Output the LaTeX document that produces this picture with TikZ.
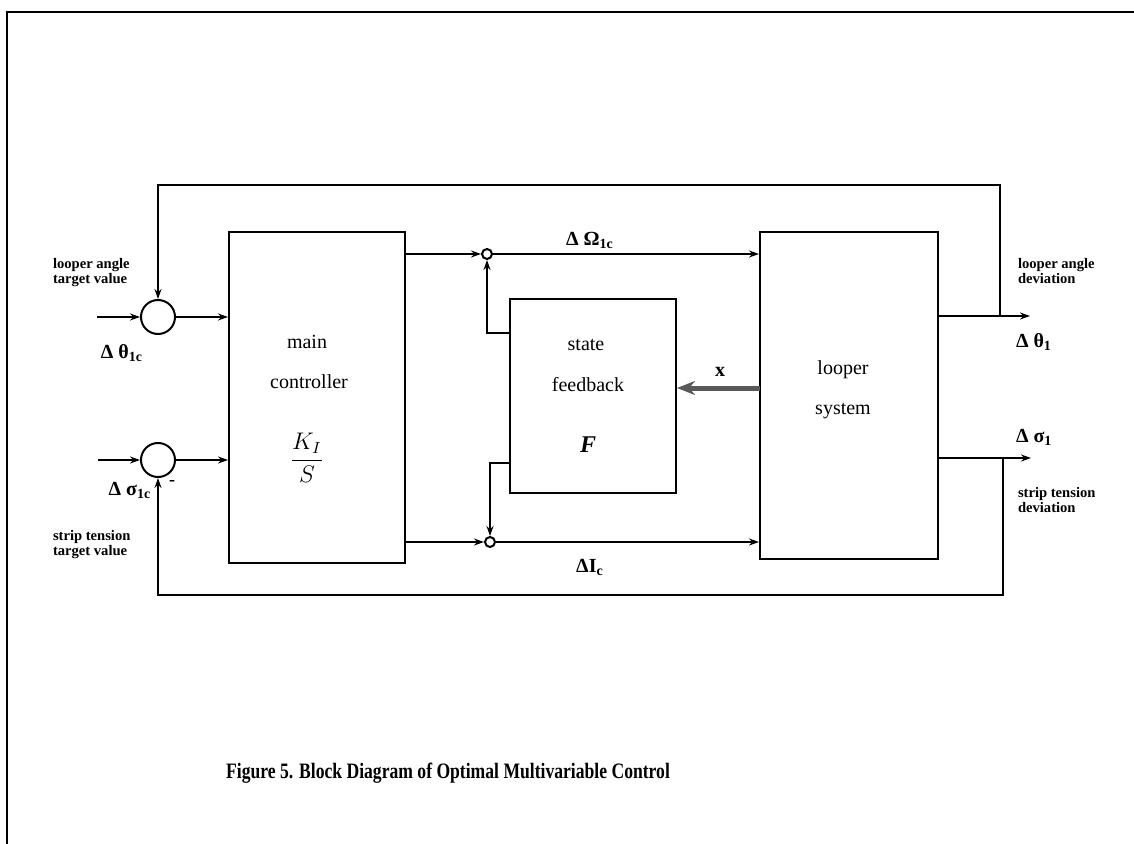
\documentclass[tikz,border=0pt]{standalone}
\usepackage{amsmath}
\usepackage{fontspec}
\setmainfont{Liberation Serif}
\usepackage{tikz}
\usetikzlibrary{arrows.meta,positioning,calc}

\begin{document}
\begin{tikzpicture}[x=0.5pt,y=-0.5pt,line width=1pt,
    font=\fontsize{10}{12}\selectfont,
    >={Stealth[length=5pt,width=3.5pt]},
    blk/.style={draw,line width=1pt,inner sep=0pt},
    sum/.style={draw,circle,line width=1pt,inner sep=0pt,minimum size=#1},
    lbl/.style={font=\fontsize{7.3}{6.6}\selectfont\bfseries,align=left,inner sep=0pt},
    sig/.style={font=\fontsize{10}{12}\selectfont\bfseries,inner sep=1pt}]
  \useasboundingbox (0,0) rectangle (1134,844);
  % page frame
  \draw (7,844) -- (7,12) -- (1134,12);

  % blocks
  \node[blk,minimum width=88pt,minimum height=165.5pt] (ctrl) at (317,397.5) {};
  \node[blk,minimum width=83pt,minimum height=97pt] (fb) at (593,396) {};
  \node[blk,minimum width=89pt,minimum height=163.5pt] (loop) at (849,395.5) {};
  \node (ctrlA) at (307,342) {main};
  \node (ctrlB) at (309,382) {controller};
  \node (ctrlC) at (307,458) {\large$\dfrac{K_I}{S}$};
  \node (fbA) at (586,345) {state};
  \node (fbB) at (588,385) {feedback};
  \node (fbC) at (588,445) {\large\textbf{\textit{F}}};
  \node (loopA) at (843,370) {looper};
  \node (loopB) at (843,411) {system};

  % summing points
  \node[sum=17pt] (c1) at (158,317) {};
  \node[sum=17pt] (c2) at (158,460) {};
  \node[sum=5pt] (s1) at (487,254) {};
  \node[sum=5pt] (s2) at (490,542) {};

  % free ends
  \coordinate (in1) at (97,317);
  \coordinate (in2) at (98,460);
  \coordinate (fbo1) at (510,333);
  \coordinate (fbo2) at (510,463);
  \coordinate (xin) at (760,388);
  \coordinate (th) at (1030,316);
  \coordinate (sg) at (1031,458);
  \coordinate (tp) at (1000,316);
  \coordinate (topR) at (1000,185);
  \coordinate (bp) at (1003,458);
  \coordinate (botR) at (1003,595);

  % connectors
  \draw[->] (in1) -- (c1);
  \draw[->] (in2) -- (c2);
  \draw[->] (c1) -- (c1 -| ctrl.west);
  \draw[->] (c2) -- (c2 -| ctrl.west);
  \draw[->] (ctrl.east |- s1) -- (s1);
  \draw[->] (ctrl.east |- s2) -- (s2);
  \draw[->] (s1) -- (s1 -| loop.west);
  \draw[->] (s2) -- (s2 -| loop.west);
  \draw[->] (fbo1) -| (s1);
  \draw[->] (fbo2) -| (s2);
  \draw[gray!70!black,line width=2.5pt,-{Stealth[length=9pt,width=7pt]}]
    (xin) -- (xin -| fb.east);
  \draw[->] (loop.east |- th) -- (th);
  \draw[->] (loop.east |- sg) -- (sg);
  \draw[->] (tp) -- (topR) -| (c1.north);
  \draw[->] (bp) -- (botR) -| (c2.south);

  % signal labels
  \node[sig] (thc) at (122,353) {Δ θ\textsubscript{1c}};
  \node[sig] (sgc) at (130,490) {Δ σ\textsubscript{1c}};
  \node[font=\small\bfseries] (minus) at (172,483) {-};
  \node[sig] (om) at (590,240) {Δ Ω\textsubscript{1c}};
  \node[sig] (ic) at (590,567) {ΔI\textsubscript{c}};
  \node[sig] (xl) at (720,372) {x};
  \node[sig,anchor=west] (tho) at (1013,342) {Δ θ\textsubscript{1}};
  \node[sig,anchor=west] (sgo) at (1013,437) {Δ σ\textsubscript{1}};

  \node[lbl,anchor=north west] (la) at (52,257) {looper angle\\target value};
  \node[lbl,anchor=north west] (st) at (52,529) {strip tension\\target value};
  \node[lbl,anchor=north west] (lad) at (1017,257) {looper angle\\deviation};
  \node[lbl,anchor=north west] (std) at (1017,486) {strip tension\\deviation};

  % caption
  \node[font=\fontsize{11}{13}\selectfont\bfseries,xscale=0.8] (cap) at (448,773)
    {Figure 5. Block Diagram of Optimal Multivariable Control};
\end{tikzpicture}
\end{document}
